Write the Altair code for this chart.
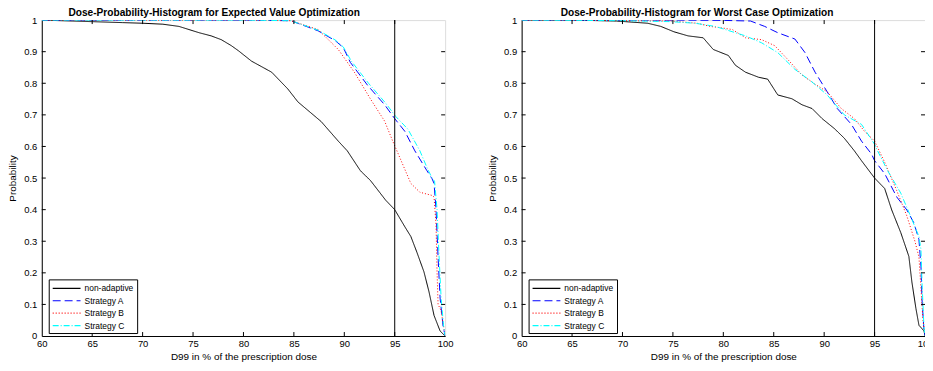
import altair as alt
import pandas as pd

SERIES = ["non-adaptive", "Strategy A", "Strategy B", "Strategy C"]
COLORS = ["#000000", "#0000ff", "#ff0000", "#00ffff"]
DASHES = [[1, 0], [8, 4], [1, 2], [6, 2, 1, 2]]

# ---- Expected value optimization (left) ----
ev_na_x = [60, 63, 65, 68, 70, 72, 73.6, 75.6, 76.8, 77.8, 78.8, 79.5, 80.8, 82.8, 84.4, 85.4, 87.7, 89.4,
           90.3, 91.6, 92.6, 94.1, 95.0, 96.0, 96.6, 97.2, 97.9, 98.4, 98.9, 99.5, 99.9, 100]
ev_na_p = [1, 0.997, 0.995, 0.992, 0.99, 0.987, 0.98, 0.96, 0.95, 0.938, 0.919, 0.903, 0.87, 0.835, 0.782,
           0.741, 0.679, 0.617, 0.586, 0.523, 0.492, 0.43, 0.40, 0.346, 0.315, 0.265, 0.203, 0.14, 0.065,
           0.016, 0.003, 0]
ev_a_x = [60, 80, 84.7, 87.4, 89.1, 89.9, 90.6, 92.3, 94.0, 95.0, 96.0, 97.0, 98.2, 98.7, 98.9, 99.1,
          99.3, 99.5, 99.8, 100]
ev_a_p = [1, 1, 0.998, 0.966, 0.935, 0.913, 0.866, 0.794, 0.732, 0.688, 0.648, 0.586, 0.523, 0.498,
          0.483, 0.40, 0.25, 0.12, 0.03, 0]
ev_b_x = [60, 80, 84.7, 87.4, 89.4, 91.0, 92.6, 94.0, 94.8, 95.3, 96.6, 97.5, 98.7, 98.9, 99.1, 99.2,
          99.3, 99.6, 100]
ev_b_p = [1, 1, 0.998, 0.97, 0.907, 0.835, 0.75, 0.68, 0.617, 0.58, 0.483, 0.455, 0.445, 0.44, 0.35,
          0.2, 0.1, 0.08, 0]
ev_c_x = [60, 80, 84.7, 87.4, 89.1, 89.9, 90.7, 92.4, 94.1, 95.1, 96.3, 97.5, 98.2, 98.7, 98.95, 99.2,
          99.4, 99.6, 99.85, 100]
ev_c_p = [1, 1, 0.998, 0.968, 0.937, 0.915, 0.87, 0.80, 0.737, 0.695, 0.655, 0.586, 0.533, 0.50, 0.49,
          0.40, 0.25, 0.12, 0.03, 0]

# ---- Worst case optimization (right) ----
wc_na_x = [60, 65, 69.4, 72.5, 73.8, 75.1, 76.5, 78.0, 79.0, 80.5, 81.2, 82.2, 83.5, 84.4, 85.4, 86.8,
           87.8, 88.8, 89.8, 91.0, 92.0, 93.0, 93.7, 95.0, 96.0, 96.7, 97.6, 98.4, 98.7, 99.1, 99.4,
           99.9, 100]
wc_na_p = [1, 1, 0.997, 0.99, 0.98, 0.963, 0.95, 0.944, 0.907, 0.888, 0.857, 0.835, 0.819, 0.813, 0.763,
           0.751, 0.732, 0.72, 0.688, 0.657, 0.626, 0.586, 0.555, 0.50, 0.467, 0.399, 0.327, 0.252,
           0.171, 0.087, 0.034, 0.016, 0]
wc_a_x = [60, 75, 80, 82.7, 84.1, 85.4, 87.1, 88.1, 89.1, 90.3, 91.3, 92.7, 93.7, 94.7, 95.0, 96.0,
          97.2, 98.2, 98.9, 99.4, 99.6, 99.7, 99.9, 100]
wc_a_p = [1, 1, 0.999, 0.997, 0.98, 0.96, 0.94, 0.897, 0.835, 0.773, 0.72, 0.67, 0.617, 0.576, 0.555,
          0.514, 0.44, 0.399, 0.358, 0.305, 0.221, 0.118, 0.016, 0]
wc_b_x = [60, 66, 70, 74.8, 77.4, 78.7, 79.9, 80.9, 82.2, 83.8, 85.1, 86.4, 87.8, 89.1, 90.3, 91.7,
          93.0, 94.0, 95.0, 96.0, 97.2, 98.2, 99.0, 99.4, 99.6, 99.8, 100]
wc_b_p = [1, 0.999, 0.998, 0.997, 0.99, 0.98, 0.975, 0.97, 0.944, 0.938, 0.919, 0.875, 0.826, 0.797,
          0.773, 0.72, 0.688, 0.648, 0.617, 0.55, 0.46, 0.38, 0.30, 0.25, 0.15, 0.05, 0]
wc_c_x = [60, 66, 70, 74.8, 77.2, 79.2, 82.2, 83.8, 85.4, 87.1, 88.8, 90.3, 92.0, 93.7, 95.0, 95.3,
          96.3, 97.6, 98.6, 99.4, 99.6, 99.7, 99.9, 100]
wc_c_p = [1, 0.999, 0.998, 0.995, 0.99, 0.98, 0.95, 0.928, 0.897, 0.844, 0.804, 0.763, 0.70, 0.67,
          0.607, 0.586, 0.523, 0.452, 0.377, 0.315, 0.274, 0.171, 0.025, 0]

X_TICKS = [60, 65, 70, 75, 80, 85, 90, 95, 100]
Y_TICKS = [0, 0.1, 0.2, 0.3, 0.4, 0.5, 0.6, 0.7, 0.8, 0.9, 1]
REF_DOSE = [95]

TITLES = ["Dose-Probability-Histogram for Expected Value Optimization",
          "Dose-Probability-Histogram for Worst Case Optimization"]
TITLE_SHIFT = [-29.5, -26.5]

W, H = 406, 318
FONT = "Liberation Sans"
NBSP = "\u00a0" * 7


def frame(xs_list, ps_list):
    rows = []
    for name, xs, ps in zip(SERIES, xs_list, ps_list):
        for i, (x, p) in enumerate(zip(xs, ps)):
            rows.append({"series": name, "dose": x, "prob": p, "order": i})
    return pd.DataFrame(rows)


XA = alt.Axis(values=X_TICKS, title="D99 in % of the prescription dose",
              ticks=False, grid=False, domainColor="#000", labelColor="#000",
              labelFont=FONT, labelFontSize=9.5, labelPadding=3,
              titleFont=FONT, titleFontSize=10, titleFontWeight="normal",
              titleColor="#000", titlePadding=3, labelFlush=False)
YA = alt.Axis(values=Y_TICKS, title="Probability", ticks=False, grid=False,
              domainColor="#000", labelColor="#000",
              labelExpr="datum.value == 0 ? '0' : datum.value == 1 ? '1' : format(datum.value, '.1f')",
              labelFont=FONT, labelFontSize=9.5, labelPadding=5,
              titleFont=FONT, titleFontSize=10, titleFontWeight="normal",
              titleColor="#000", titlePadding=6)


def panel(df, title, shift):
    xscale = alt.Scale(domain=[60, 100], nice=False)
    yscale = alt.Scale(domain=[0, 1], nice=False)
    legend = alt.Legend(
        title=None, orient="none", legendX=7, legendY=261,
        symbolType="M-1,0H4.6", symbolSize=100, symbolStrokeWidth=1.2,
        labelFont=FONT, labelFontSize=8.5, labelColor="#000",
        labelExpr="datum.label + '" + NBSP + "'",
        strokeColor="#000", fillColor="#fff", padding=3, rowPadding=1.5,
        cornerRadius=0, labelOffset=21,
    )
    lines = alt.Chart(df).mark_line(strokeWidth=1, clip=True).encode(
        x=alt.X("dose:Q", scale=xscale, axis=XA),
        y=alt.Y("prob:Q", scale=yscale, axis=YA),
        color=alt.Color("series:N", scale=alt.Scale(domain=SERIES, range=COLORS), legend=legend),
        strokeDash=alt.StrokeDash("series:N", scale=alt.Scale(domain=SERIES, range=DASHES), legend=legend),
        order="order:Q",
        detail="series:N",
    )
    ref = alt.Chart(pd.DataFrame({"d": REF_DOSE})).mark_rule(color="#000", strokeWidth=1).encode(
        x=alt.X("d:Q", scale=xscale, axis=XA)
    )
    xt = pd.DataFrame({"t": X_TICKS[1:-1]})
    yt = pd.DataFrame({"t": Y_TICKS[1:-1]})
    tb = alt.Chart(xt).mark_rule(color="#000", strokeWidth=1).encode(
        x=alt.X("t:Q", scale=xscale, axis=XA), y=alt.value(H), y2=alt.value(H - 4))
    tt = alt.Chart(xt).mark_rule(color="#000", strokeWidth=1).encode(
        x=alt.X("t:Q", scale=xscale, axis=XA), y=alt.value(0), y2=alt.value(4))
    tl = alt.Chart(yt).mark_rule(color="#000", strokeWidth=1).encode(
        y=alt.Y("t:Q", scale=yscale, axis=YA), x=alt.value(0), x2=alt.value(4))
    tr = alt.Chart(yt).mark_rule(color="#000", strokeWidth=1).encode(
        y=alt.Y("t:Q", scale=yscale, axis=YA), x=alt.value(W), x2=alt.value(W - 4))
    return alt.layer(lines, ref, tb, tt, tl, tr).properties(
        width=W, height=H,
        title=alt.TitleParams(title, font=FONT, fontSize=10.2, fontWeight="bold", color="#000",
                              anchor="middle", offset=-3, dx=shift),
    )


left = panel(frame([ev_na_x, ev_a_x, ev_b_x, ev_c_x], [ev_na_p, ev_a_p, ev_b_p, ev_c_p]),
             TITLES[0], TITLE_SHIFT[0])
right = panel(frame([wc_na_x, wc_a_x, wc_b_x, wc_c_x], [wc_na_p, wc_a_p, wc_b_p, wc_c_p]),
              TITLES[1], TITLE_SHIFT[1])

chart = alt.hconcat(left, right, spacing=77, bounds="flush").resolve_scale(
    color="independent", strokeDash="independent"
).properties(
    padding={"left": -1, "top": -2, "right": -9, "bottom": 0}
).configure_view(stroke="#000", strokeWidth=1).configure(background="#ffffff")

chart.save("out.html", embed_options={"renderer": "svg", "actions": False})
